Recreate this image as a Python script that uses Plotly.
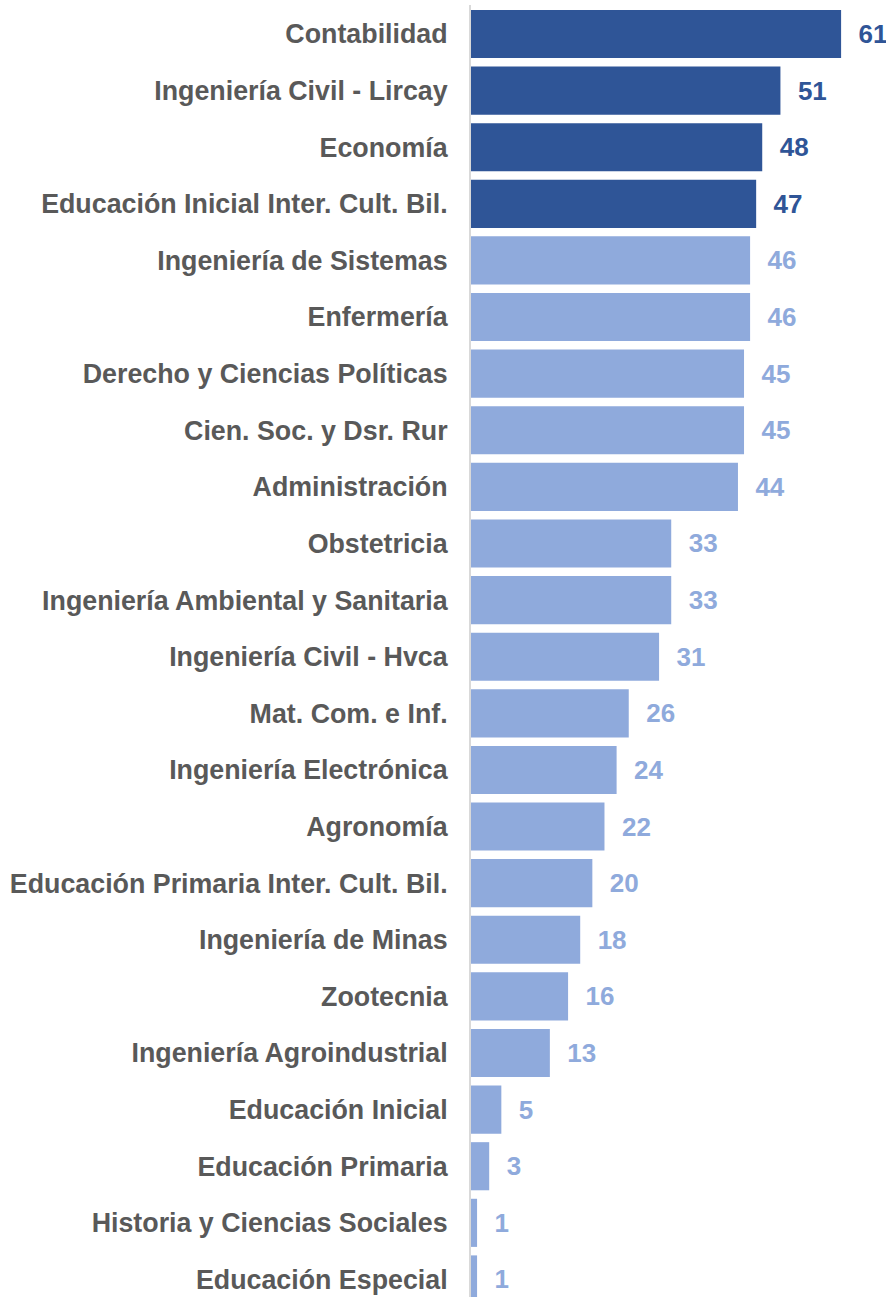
import plotly.graph_objects as go

categories = ["Contabilidad", "Ingeniería Civil - Lircay", "Economía",
              "Educación Inicial Inter. Cult. Bil.", "Ingeniería de Sistemas",
              "Enfermería", "Derecho y Ciencias Políticas", "Cien. Soc. y Dsr. Rur",
              "Administración", "Obstetricia", "Ingeniería Ambiental y Sanitaria",
              "Ingeniería Civil - Hvca", "Mat. Com. e Inf.", "Ingeniería Electrónica",
              "Agronomía", "Educación Primaria Inter. Cult. Bil.", "Ingeniería de Minas",
              "Zootecnia", "Ingeniería Agroindustrial", "Educación Inicial",
              "Educación Primaria", "Historia y Ciencias Sociales", "Educación Especial"]
values = [61, 51, 48, 47, 46, 46, 45, 45, 44, 33, 33, 31, 26, 24, 22, 20, 18, 16, 13, 5, 3, 1, 1]
highlight_count = 4

DARK = "#2F5597"
LIGHT = "#8FAADC"
colors = [DARK if i < highlight_count else LIGHT for i in range(len(values))]
FONT = "Liberation Sans, Arial, sans-serif"

fig = go.Figure(go.Bar(
    x=values, y=categories, orientation="h",
    marker=dict(color=colors, line=dict(width=0)),
    texttemplate="<b>\u00a0\u00a0%{x}</b>", textposition="outside",
    textfont=dict(family=FONT, size=26, color=colors),
    cliponaxis=False, hoverinfo="skip",
))

fig.update_layout(
    width=886, height=1297,
    margin=dict(l=471, r=0, t=5, b=0),
    paper_bgcolor="white", plot_bgcolor="white",
    bargap=0.15, showlegend=False,
    font=dict(family=FONT),
)
fig.update_xaxes(range=[0, 68.4], visible=False, showgrid=False, zeroline=False)
fig.update_yaxes(
    tickmode="array", tickvals=categories,
    ticktext=[f"<b>{c}</b>" for c in categories],
    range=[22.31, -0.512], showgrid=False, zeroline=False,
    showline=True, linecolor="#D9D9D9", linewidth=2,
    ticks="outside", ticklen=16, tickcolor="rgba(0,0,0,0)",
    tickfont=dict(family=FONT, size=26.8, color="#595959"),
)

fig.write_html(
    "out.html",
    config={"displayModeBar": False, "staticPlot": True},
    post_script="document.body.style.margin='0';document.documentElement.style.overflow='hidden';document.body.style.overflow='hidden';",
)
